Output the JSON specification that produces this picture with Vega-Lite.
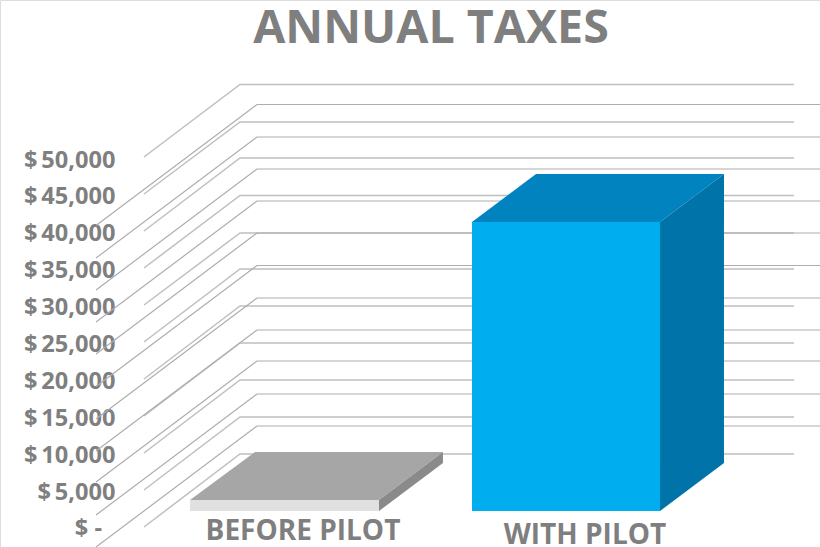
{
  "$schema": "https://vega.github.io/schema/vega-lite/v6.json",
  "width": 820,
  "height": 547,
  "padding": 0,
  "autosize": "none",
  "background": "white",
  "title": {"text": "ANNUAL TAXES", "font": "Open Sans", "fontWeight": "bold", "fontSize": 46.6, "color": "#7f7f7f", "anchor": "middle", "dx": 21, "offset": -53, "frame": "group"},
  "datasets": {
    "grid": [
      {"set":"A","tick":0,"across":17.56,"level":68},{"set":"A","tick":0,"across":29.27,"level":9959},{"set":"A","tick":0,"across":96.83,"level":9959},
      {"set":"A","tick":5000,"across":17.56,"level":5081},{"set":"A","tick":5000,"across":29.27,"level":14973},{"set":"A","tick":5000,"across":96.83,"level":14973},
      {"set":"A","tick":10000,"across":17.56,"level":10095},{"set":"A","tick":10000,"across":29.27,"level":19986},{"set":"A","tick":10000,"across":96.83,"level":19986},
      {"set":"A","tick":15000,"across":17.56,"level":15108},{"set":"A","tick":15000,"across":29.27,"level":25000},{"set":"A","tick":15000,"across":96.83,"level":25000},
      {"set":"A","tick":20000,"across":17.56,"level":20122},{"set":"A","tick":20000,"across":29.27,"level":30013},{"set":"A","tick":20000,"across":96.83,"level":30013},
      {"set":"A","tick":25000,"across":17.56,"level":25135},{"set":"A","tick":25000,"across":29.27,"level":35027},{"set":"A","tick":25000,"across":96.83,"level":35027},
      {"set":"A","tick":30000,"across":17.56,"level":30149},{"set":"A","tick":30000,"across":29.27,"level":39905},{"set":"A","tick":30000,"across":96.83,"level":39905},
      {"set":"A","tick":35000,"across":17.56,"level":35162},{"set":"A","tick":35000,"across":29.27,"level":44986},{"set":"A","tick":35000,"across":96.83,"level":44986},
      {"set":"A","tick":40000,"across":17.56,"level":40176},{"set":"A","tick":40000,"across":29.27,"level":50067},{"set":"A","tick":40000,"across":96.83,"level":50067},
      {"set":"A","tick":45000,"across":17.56,"level":45189},{"set":"A","tick":45000,"across":29.27,"level":54945},{"set":"A","tick":45000,"across":96.83,"level":54945},
      {"set":"A","tick":50000,"across":17.56,"level":50203},{"set":"A","tick":50000,"across":29.27,"level":60027},{"set":"A","tick":50000,"across":96.83,"level":60027},
      {"set":"B","tick":0,"across":11.71,"level":-2642},{"set":"B","tick":0,"across":31.34,"level":13753},{"set":"B","tick":0,"across":100,"level":13753},
      {"set":"B","tick":5000,"across":11.71,"level":1694},{"set":"B","tick":5000,"across":31.34,"level":18089},{"set":"B","tick":5000,"across":100,"level":18089},
      {"set":"B","tick":10000,"across":11.71,"level":6165},{"set":"B","tick":10000,"across":31.34,"level":22561},{"set":"B","tick":10000,"across":100,"level":22561},
      {"set":"B","tick":15000,"across":11.71,"level":10366},{"set":"B","tick":15000,"across":31.34,"level":26761},{"set":"B","tick":15000,"across":100,"level":26761},
      {"set":"B","tick":20000,"across":11.71,"level":14702},{"set":"B","tick":20000,"across":31.34,"level":31097},{"set":"B","tick":20000,"across":100,"level":31097},
      {"set":"B","tick":25000,"across":11.71,"level":19106},{"set":"B","tick":25000,"across":31.34,"level":35501},{"set":"B","tick":25000,"across":100,"level":35501},
      {"set":"B","tick":30000,"across":11.71,"level":23509},{"set":"B","tick":30000,"across":31.34,"level":39905},{"set":"B","tick":30000,"across":100,"level":39905},
      {"set":"B","tick":35000,"across":11.71,"level":27845},{"set":"B","tick":35000,"across":31.34,"level":44241},{"set":"B","tick":35000,"across":100,"level":44241},
      {"set":"B","tick":40000,"across":11.71,"level":32181},{"set":"B","tick":40000,"across":31.34,"level":48577},{"set":"B","tick":40000,"across":100,"level":48577},
      {"set":"B","tick":45000,"across":11.71,"level":36517},{"set":"B","tick":45000,"across":31.34,"level":52913},{"set":"B","tick":45000,"across":100,"level":52913},
      {"set":"B","tick":50000,"across":11.71,"level":40921},{"set":"B","tick":50000,"across":31.34,"level":57317},{"set":"B","tick":50000,"across":100,"level":57317}
    ],
    "front": [
      {"category":"BEFORE PILOT","across":23.17,"across2":46.22,"base":2236,"top":3726},
      {"category":"WITH PILOT","across":57.56,"across2":80.49,"base":2236,"top":41396}
    ],
    "upper": [
      {"category":"BEFORE PILOT","level":3726,"across":23.17,"across2":46.22},
      {"category":"BEFORE PILOT","level":10230,"across":31.1,"across2":54.02},
      {"category":"WITH PILOT","level":41396,"across":57.56,"across2":80.49},
      {"category":"WITH PILOT","level":47900,"across":65.37,"across2":88.29}
    ],
    "side": [
      {"category":"BEFORE PILOT","across":46.22,"level":3726,"level2":2236},
      {"category":"BEFORE PILOT","across":54.02,"level":10230,"level2":8740},
      {"category":"WITH PILOT","across":80.49,"level":41396,"level2":2236},
      {"category":"WITH PILOT","across":88.29,"level":47900,"level2":8740}
    ],
    "names": [
      {"category":"BEFORE PILOT","across":36.95,"level":-600},
      {"category":"WITH PILOT","across":71.34,"level":-1150}
    ],
    "zeroLabel": [
      {"label":"$ -","across":10.79,"level":-200}
    ]
  },
  "resolve": {"scale": {"color": "independent"}},
  "encoding": {
    "x": {"field": "across", "type": "quantitative", "axis": null, "scale": {"domain": [0, 100], "range": [0, 820], "nice": false, "zero": false}},
    "y": {"field": "level", "type": "quantitative", "scale": {"domain": [-2642, 71477], "range": [547, 0], "nice": false, "zero": false},
      "axis": {"title": null, "offset": -115, "values": [5000,10000,15000,20000,25000,30000,35000,40000,45000,50000], "domain": false, "ticks": false, "grid": false, "labelPadding": 0, "labelOffset": 1.5, "labelFont": "Open Sans", "labelFontWeight": "bold", "labelFontSize": 23.6, "labelColor": "#7f7f7f", "labelBaseline": "middle", "labelExpr": "'$\u2009' + format(datum.value, ',')"}}
  },
  "layer": [
    {
      "data": {"name": "grid"},
      "transform": [{"filter": "datum.set === 'A'"}],
      "mark": {"type": "line", "color": "#bfbfbf", "strokeWidth": 1.5, "interpolate": "linear"},
      "encoding": {"detail": {"field": "tick"}, "order": {"field": "across", "type": "quantitative"}}
    },
    {
      "data": {"name": "grid"},
      "transform": [{"filter": "datum.set === 'B'"}],
      "mark": {"type": "line", "color": "#adadad", "strokeWidth": 1.2, "interpolate": "linear"},
      "encoding": {"detail": {"field": "tick"}, "order": {"field": "across", "type": "quantitative"}}
    },
    {
      "data": {"name": "upper"},
      "mark": {"type": "area", "orient": "horizontal"},
      "encoding": {
        "x2": {"field": "across2"},
        "detail": {"field": "category"},
        "color": {"field": "category", "type": "nominal", "legend": null, "scale": {"domain": ["BEFORE PILOT", "WITH PILOT"], "range": ["#a6a6a6", "#0083bf"]}}
      }
    },
    {
      "data": {"name": "side"},
      "mark": {"type": "area", "orient": "vertical"},
      "encoding": {
        "y2": {"field": "level2"},
        "detail": {"field": "category"},
        "color": {"field": "category", "type": "nominal", "legend": null, "scale": {"domain": ["BEFORE PILOT", "WITH PILOT"], "range": ["#8a8a8a", "#0074a8"]}}
      }
    },
    {
      "data": {"name": "front"},
      "mark": {"type": "rect"},
      "encoding": {
        "x2": {"field": "across2"},
        "y": {"field": "top", "type": "quantitative"},
        "y2": {"field": "base"},
        "color": {"field": "category", "type": "nominal", "legend": null, "scale": {"domain": ["BEFORE PILOT", "WITH PILOT"], "range": ["#e0e0e0", "#00aeef"]}}
      }
    },
    {
      "data": {"name": "names"},
      "mark": {"type": "text", "font": "Open Sans", "fontWeight": "bold", "fontSize": 28, "color": "#7f7f7f", "baseline": "middle", "align": "center"},
      "encoding": {"text": {"field": "category", "type": "nominal"}}
    },
    {
      "data": {"name": "zeroLabel"},
      "mark": {"type": "text", "font": "Open Sans", "fontWeight": "bold", "fontSize": 23.6, "color": "#7f7f7f", "baseline": "middle", "align": "center"},
      "encoding": {"text": {"field": "label", "type": "nominal"}}
    }
  ]
}
